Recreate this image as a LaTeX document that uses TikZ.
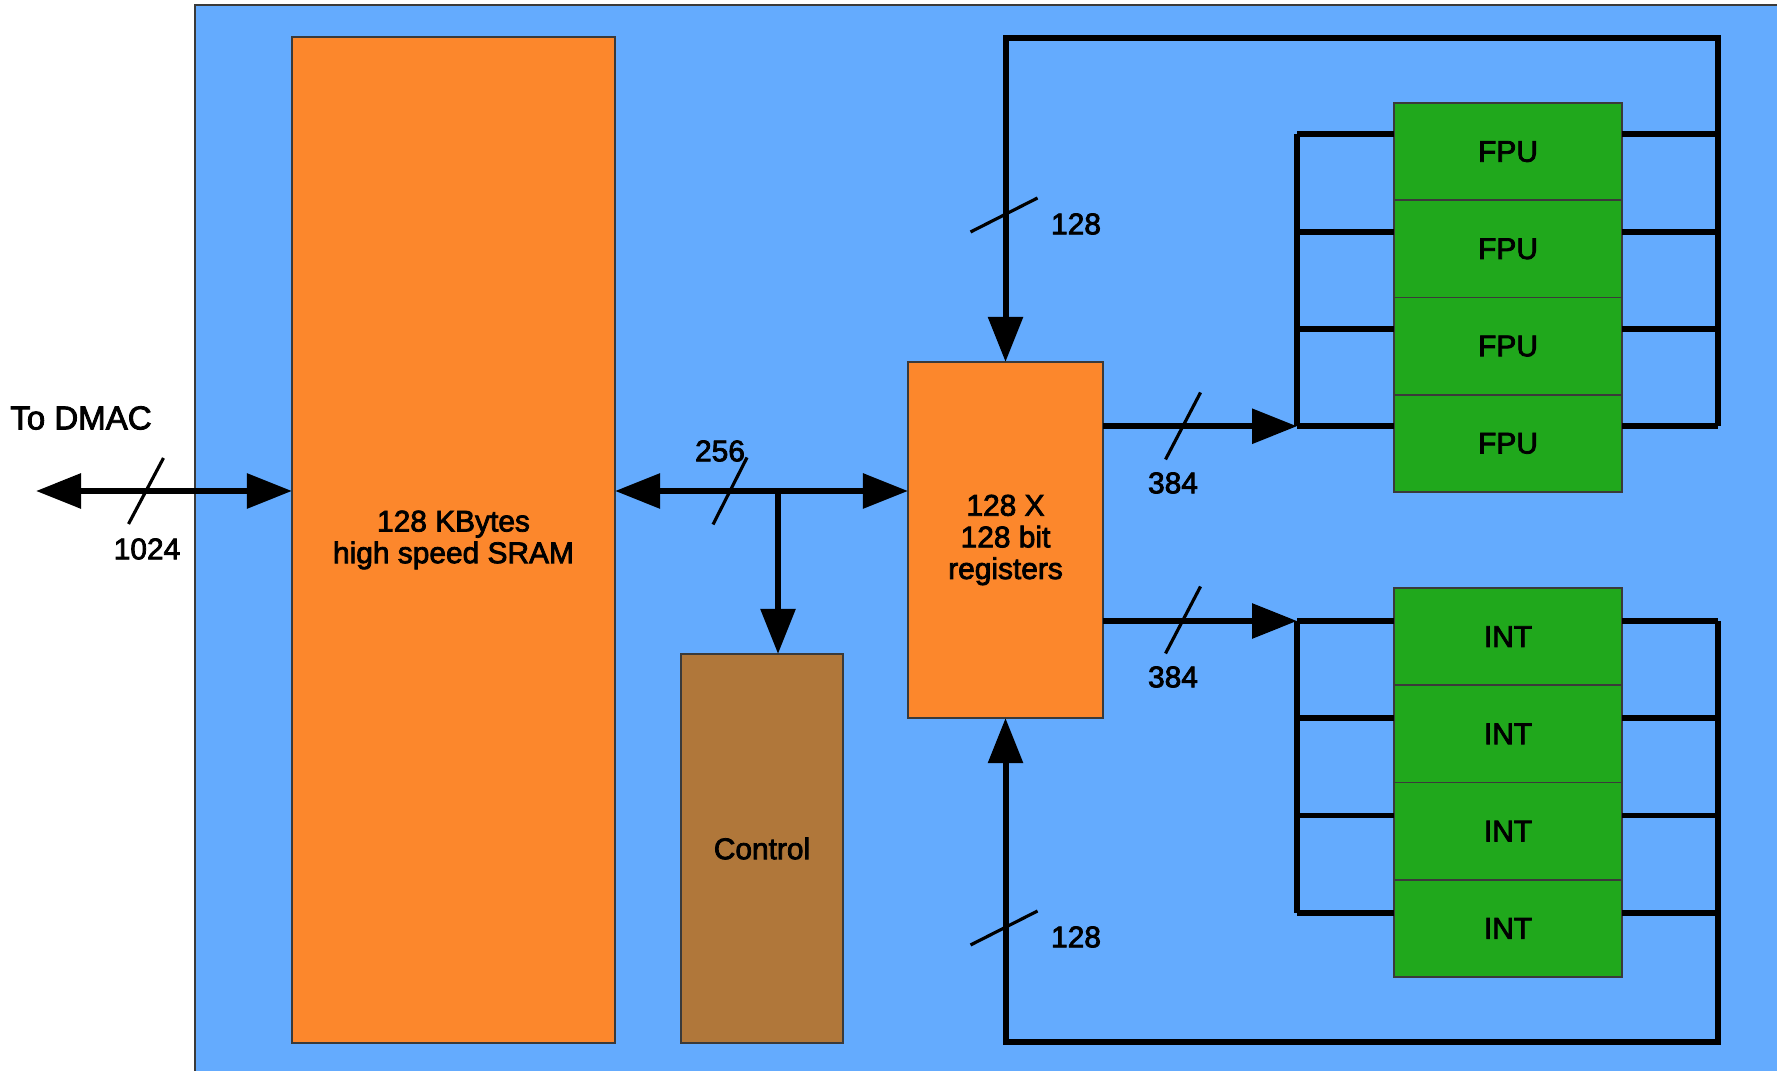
\documentclass[tikz,border=0pt]{standalone}
\usepackage{fontspec}
\setmainfont{Liberation Sans}[BoldFont={Liberation Sans}, BoldFeatures={FakeBold=2.6}]
\usetikzlibrary{arrows.meta}

\definecolor{bgblue}{HTML}{64ABFE}
\definecolor{memorange}{HTML}{FC872C}
\definecolor{ctrlbrown}{HTML}{B0773A}
\definecolor{unitgreen}{HTML}{20A81C}
\definecolor{edgegray}{HTML}{3A3A3A}

\begin{document}
\begin{tikzpicture}[x=0.01cm, y=-0.01cm, >={Triangle[length=4.5mm,width=3.4mm]},
  every node/.style={font=\fontsize{8.5}{9}\selectfont\bfseries},
  block/.style={draw=edgegray, line width=0.5pt, inner sep=0pt, outer sep=0pt, align=center},
  bus/.style={line width=1.7pt},
  tick/.style={line width=0.9pt}]
  \useasboundingbox (0,0) rectangle (1777,1071);

  % chip area
  \fill[bgblue] (195,5) rectangle (1777,1071);
  \draw[edgegray, line width=0.6pt] (195,1071) -- (195,5) -- (1777,5);

  % blocks
  \node[block, fill=memorange, minimum width=3.23cm, minimum height=10.06cm] (sram) at (453.5,540) {128 KBytes\\high speed SRAM};
  \node[block, fill=ctrlbrown, minimum width=1.62cm, minimum height=3.89cm] (ctrl) at (762,848.5) {Control};
  \node[block, fill=memorange, minimum width=1.95cm, minimum height=3.56cm] (regs) at (1005.5,540) {128 X\\128 bit\\registers};
  \foreach \i in {1,...,4}{
    \node[block, fill=unitgreen, minimum width=2.28cm, minimum height=0.9725cm] (fpu\i) at (1508,{151.6+(\i-1)*97.25}) {FPU};
    \node[block, fill=unitgreen, minimum width=2.28cm, minimum height=0.9725cm] (int\i) at (1508,{636.6+(\i-1)*97.25}) {INT};
  }

  % buses round the units
  \coordinate (ftop) at (1718,38);
  \coordinate (fbot) at (1718,1042);
  \foreach \i in {1,...,4}{
    \coordinate (fs\i) at (1297,{134.5+(\i-1)*97.25});
    \coordinate (is\i) at (1297,{621+(\i-1)*97.25});
    \draw[bus] (fs\i) -- (fpu\i.west |- fs\i);
    \draw[bus] (fpu\i.east |- fs\i) -- (ftop |- fs\i);
    \draw[bus] (is\i) -- (int\i.west |- is\i);
    \draw[bus] (int\i.east |- is\i) -- (ftop |- is\i);
  }
  \draw[bus] (fs1) -- (fs4);
  \draw[bus] (is1) -- (is4);
  \draw[bus,->] (ftop |- fs4) -- (ftop) -- (regs.north |- ftop) -- (regs.north);
  \draw[bus,->] (ftop |- is1) -- (fbot) -- (regs.south |- fbot) -- (regs.south);
  \draw[bus,->] (regs.east |- fs4) -- (fs4);
  \draw[bus,->] (regs.east |- is1) -- (is1);

  % memory side
  \coordinate (dmac) at (36,491);
  \coordinate (tee) at (778,491);
  \draw[bus,<->] (dmac) -- (sram.west |- dmac);
  \draw[bus,<->] (sram.east |- dmac) -- (regs.west |- dmac);
  \draw[bus,->] (tee) -- (tee |- ctrl.north);

  % bus widths
  \draw[tick] (146,491) ++(-17.5,33) -- ++(35,-66);
  \draw[tick] (730,491) ++(-17,33.5) -- ++(34,-67);
  \draw[tick] (1183,426) ++(-17.5,33.5) -- ++(35,-67);
  \draw[tick] (1183,620) ++(-17.5,33.5) -- ++(35,-67);
  \draw[tick] (1004,215) ++(-33.5,17) -- ++(67,-34);
  \draw[tick] (1004,928) ++(-33.5,17) -- ++(67,-34);

  \node[font=\fontsize{9.4}{10}\selectfont\bfseries] (todmac) at (81,418) {To DMAC};
  \node (w1024) at (147,549) {1024};
  \node (w256) at (720,451) {256};
  \node (w384a) at (1173,483) {384};
  \node (w384b) at (1173,677) {384};
  \node (w128a) at (1076,224) {128};
  \node (w128b) at (1076,937) {128};
\end{tikzpicture}
\end{document}
